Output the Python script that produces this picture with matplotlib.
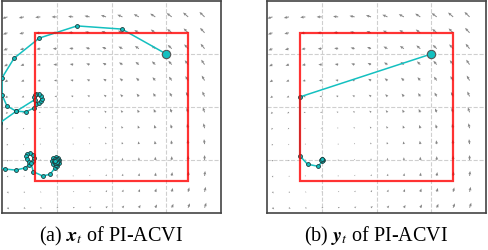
import numpy as np
import matplotlib
matplotlib.use("Agg")
import matplotlib.pyplot as plt
from matplotlib.patches import Rectangle

plt.rcParams['font.family'] = ['Liberation Serif', 'DejaVu Serif']
plt.rcParams['mathtext.fontset'] = 'stix'

# bilinear game, equilibrium and constraint box
equilibrium = (-1.0, -1.0)
box_half = 1.4
lim = 2.0
grid_ticks = [-1, 0, 1]
field_pts = np.arange(-1.9, 1.8, 0.3)

# trajectory of x_t (PI-ACVI)
x_traj_x = [1.00, 0.19, -0.63, -1.32, -1.78, -2.00, -2.00, -1.91, -1.74, -1.56, -1.42,
            -1.38, -1.32, -1.28, -1.27, -1.29, -1.33, -1.37, -1.40, -1.41, -1.40,
            -1.74, -2.04, -2.20, -2.10, -1.95, -1.75, -1.58, -1.51,
            -1.44, -1.42, -1.44, -1.49, -1.54, -1.57, -1.55, -1.50,
            -1.47, -1.43, -1.26, -1.12, -1.04,
            -1.00, -0.96, -0.95, -0.98, -1.02, -1.06, -1.08, -1.06, -1.02, -0.99,
            -0.98, -1.00, -1.03, -1.05, -1.04, -1.01, -1.00, -1.02, -1.03]
x_traj_y = [1.00, 1.47, 1.53, 1.30, 0.92, 0.55, 0.23, 0.02, -0.08, -0.09, -0.02,
            0.05, 0.07, 0.11, 0.16, 0.21, 0.24, 0.25, 0.22, 0.18, 0.14,
            -0.08, -0.30, -0.70, -1.12, -1.17, -1.19, -1.15, -1.09,
            -1.02, -0.96, -0.90, -0.87, -0.88, -0.93, -0.99, -1.03,
            -1.06, -1.22, -1.30, -1.27, -1.16,
            -1.11, -1.06, -1.00, -0.96, -0.95, -0.97, -1.02, -1.07, -1.09, -1.06,
            -1.02, -0.98, -0.98, -1.01, -1.05, -1.06, -1.03, -1.00, -1.02]

# trajectory of y_t (PI-ACVI)
y_traj_x = [1.00, -1.40, -1.40, -1.26, -1.06, -0.98, -1.00, -0.99, -1.01, -1.00]
y_traj_y = [1.00, 0.19, -0.92, -1.08, -1.12, -1.00, -0.98, -1.01, -1.00, -0.99]

captions = [r"(a) $\boldsymbol{x}_t$ of PI-ACVI", r"(b) $\boldsymbol{y}_t$ of PI-ACVI"]

line_col = '#14c0c0'

fig = plt.figure(figsize=(4.88, 2.50), dpi=100)
ax_pos = [[2 / 488, 37 / 250, 219 / 488, 212 / 250],
          [267 / 488, 37 / 250, 219 / 488, 212 / 250]]

X, Y = np.meshgrid(field_pts, field_pts)
U = -(Y - equilibrium[1])
V = X - equilibrium[0]

for k, (tx, ty) in enumerate([(x_traj_x, x_traj_y), (y_traj_x, y_traj_y)]):
    ax = fig.add_axes(ax_pos[k])
    ax.quiver(X, Y, U, V, color='#868686', angles='xy', scale_units='xy', scale=29,
              width=0.0045, headwidth=3, headlength=3.5, headaxislength=3, zorder=1)
    ax.plot(tx, ty, '-o', color=line_col, lw=1.1, ms=2.8, mfc=line_col,
            mec='#1e3c3c', mew=0.6, zorder=3)
    ax.plot(tx[0], ty[0], 'o', color=line_col, ms=6, mec='#555555', mew=0.8, zorder=4)
    ax.add_patch(Rectangle((-box_half, -box_half), 2 * box_half, 2 * box_half, fill=False,
                           ec='red', lw=1.6, alpha=0.8, zorder=5))
    ax.set_xlim(-lim, lim)
    ax.set_ylim(-lim, lim)
    ax.set_xticks(grid_ticks)
    ax.set_yticks(grid_ticks)
    ax.tick_params(length=0, labelbottom=False, labelleft=False)
    ax.grid(True, color='#cfcfcf', ls='--', lw=0.8)
    ax.set_axisbelow(True)
    for s in ax.spines.values():
        s.set_color('#444444')
        s.set_linewidth(1.2)
    fig.text(ax_pos[k][0] + ax_pos[k][2] / 2, 1.5 / 250, captions[k],
             ha='center', va='bottom', fontsize=14.5)

fig.savefig('out.png', dpi=100)
